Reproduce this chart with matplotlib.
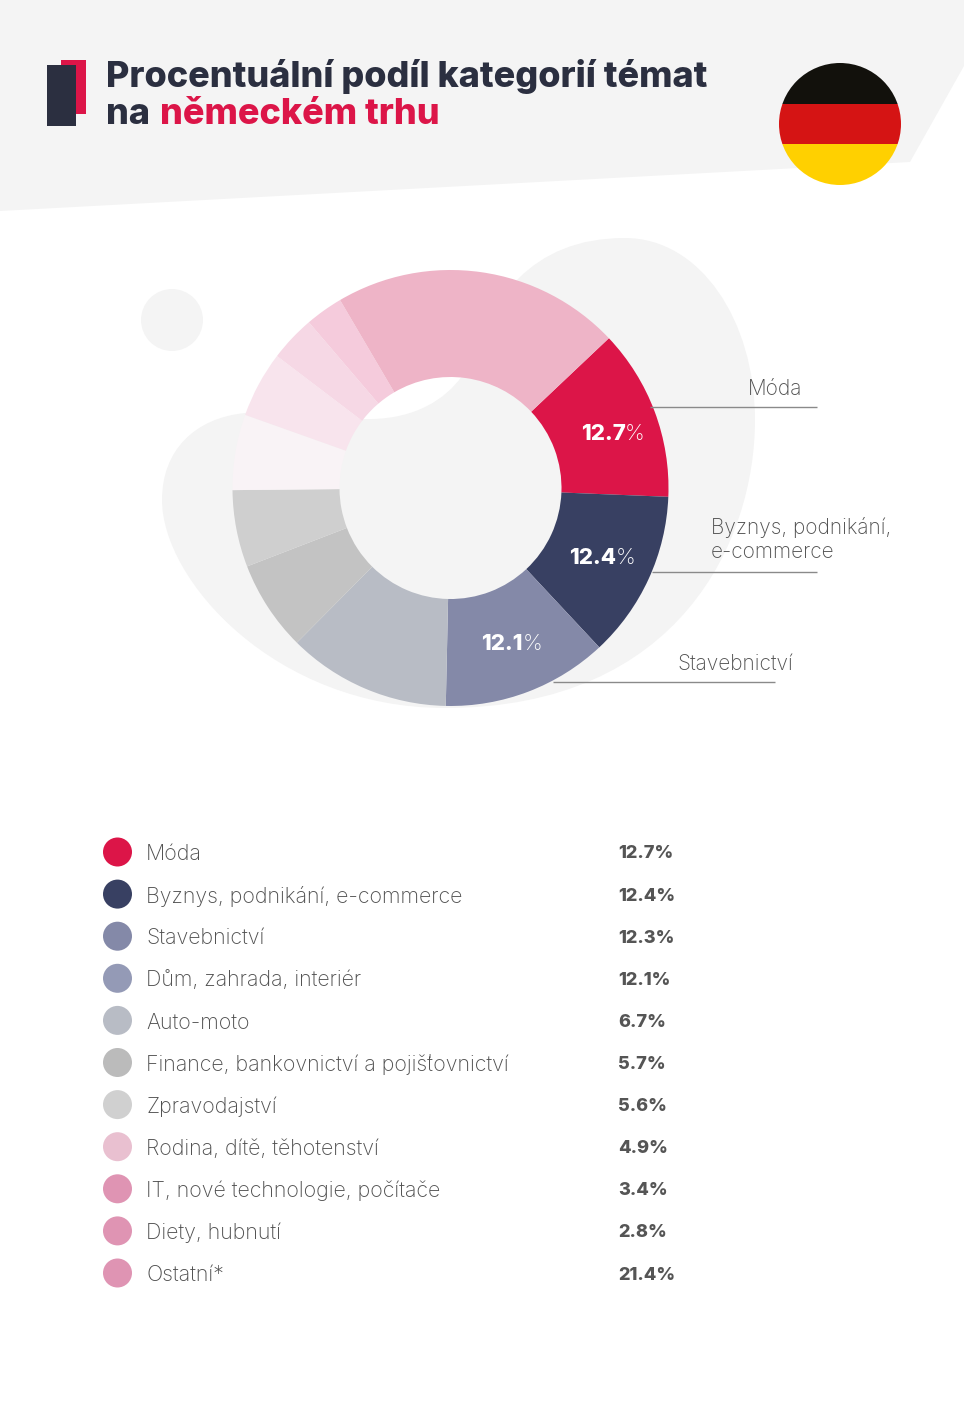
import matplotlib
matplotlib.use("Agg")
import matplotlib.pyplot as plt
from matplotlib.patches import Polygon, Circle, Rectangle, PathPatch
from matplotlib.path import Path

W, H = 964, 1415

# data
categories = ["Móda", "Byznys, podnikání, e-commerce", "Stavebnictví", "Dům, zahrada, interiér",
              "Auto-moto", "Finance, bankovnictví a pojišťovnictví", "Zpravodajství",
              "Rodina, dítě, těhotenství", "IT, nové technologie, počítače", "Diety, hubnutí", "Ostatní*"]
values = [12.7, 12.4, 12.3, 12.1, 6.7, 5.7, 5.6, 4.9, 3.4, 2.8, 21.4]
value_labels = ["12.7%", "12.4%", "12.3%", "12.1%", "6.7%", "5.7%", "5.6%", "4.9%", "3.4%", "2.8%", "21.4%"]
pie_colors = ["#dc1548", "#384062", "#8489a8", "#b8bcc5", "#c3c3c3", "#cfcfcf",
              "#f9f3f6", "#f8e4ed", "#f6d8e5", "#f5cbdc", "#eeb4c7"]
legend_colors = ["#dc1548", "#384062", "#8489a8", "#949ab6", "#b8bcc5", "#bbbbbb",
                 "#d0d0d0", "#e9c0d0", "#df94b3", "#df94b3", "#df94b3"]

DARK = "#2b2f40"
RED = "#dc1548"
BG = "#f4f4f4"
TXT = "#4f4f4f"
FONT = "Inter"

def Y(y):  # pixel y from top -> axes y
    return H - y

fig = plt.figure(figsize=(W / 100, H / 100), dpi=100, facecolor="white")
ax = fig.add_axes([0, 0, 1, 1])

# header band
ax.add_patch(Polygon([(0, Y(0)), (964, Y(0)), (964, Y(66)), (910, Y(162)), (0, Y(211))], fc=BG, ec="none", zorder=0))

# background blobs
verts = [(625, 238), (700, 238), (755, 320), (755, 420),
         (755, 540), (680, 708), (445, 708),
         (275, 708), (162, 580), (162, 500),
         (162, 450), (195, 418), (245, 413),
         (290, 409), (330, 420), (372, 419),
         (415, 418), (445, 400), (462, 376),
         (490, 300), (530, 238), (625, 238)]
codes = [Path.MOVETO] + [Path.CURVE4] * 21
ax.add_patch(PathPatch(Path([(x, Y(y)) for x, y in verts], codes), fc=BG, ec="none", zorder=1))
ax.add_patch(Circle((172, Y(320)), 31, fc=BG, ec="none", zorder=1))

# donut
wedges, _ = ax.pie(values, colors=pie_colors, startangle=43.4, counterclock=False,
                   center=(450.5, Y(488)), radius=218, frame=True,
                   wedgeprops=dict(width=107, linewidth=0))
for w in wedges:
    w.set_zorder(2)

# logo
ax.add_patch(Rectangle((61, Y(114)), 25, 54, fc=RED, ec="none", zorder=3))
ax.add_patch(Rectangle((47, Y(126)), 29, 61, fc=DARK, ec="none", zorder=4))

# title
ax.text(106, Y(77), "Procentuální podíl kategorií témat", fontsize=25.95, fontweight=800, family=FONT, color=DARK, va="center", zorder=5)
ax.text(106, Y(114), "na", fontsize=25.95, fontweight=800, family=FONT, color=DARK, va="center", zorder=5)
ax.text(160, Y(114), "německém trhu", fontsize=25.95, fontweight=800, family=FONT, color=RED, va="center", zorder=5)

# flag
flag = Circle((840, Y(124)), 61, transform=ax.transData, fc="none", ec="none")
ax.add_patch(flag)
for top, bot, col in [(60, 104, "#12110c"), (104, 144, "#d51414"), (144, 188, "#ffd000")]:
    r = Rectangle((775, Y(bot)), 130, bot - top, fc=col, ec="none", zorder=5)
    ax.add_patch(r)
    r.set_clip_path(flag)

# leader lines
for x0, x1, y in [(650, 817, 407), (652, 817, 572), (553, 775, 682)]:
    ax.plot([x0, x1], [Y(y), Y(y)], color="#8a8a8a", lw=1, zorder=3, solid_capstyle="butt")

# callout labels
for x, y, s in [(748, 389, "Móda"), (711, 528, "Byznys, podnikání,"), (711, 552, "e-commerce"), (677, 664, "Stavebnictví")]:
    ax.text(x, Y(y), s, fontsize=15, fontweight="light", family=FONT, color=TXT, va="center", zorder=5)

# percentages inside the ring
for x, y, s in [(625.5, 434, "12.7"), (616.5, 558, "12.4"), (523, 644, "12.1")]:
    ax.text(x, Y(y), s, fontsize=16, fontweight=800, family=FONT, color="white", ha="right", va="center", zorder=5)
    ax.text(x - 0.5, Y(y), "%", fontsize=16, fontweight="light", family=FONT, color="white", ha="left", va="center", zorder=5)

# legend table
for i, (cat, lab, col) in enumerate(zip(categories, value_labels, legend_colors)):
    y = 852 + 42.1 * i
    ax.add_patch(Circle((117.5, Y(y)), 14.5, fc=col, ec="none", zorder=3))
    ax.text(146, Y(y + 2), cat, fontsize=15.4, fontweight="light", family=FONT, color=TXT, va="center", zorder=5)
    ax.text(618, Y(y + 2), lab, fontsize=13.1, fontweight=800, family=FONT, color="#555555", va="center", zorder=5)

ax.set_xlim(0, W)
ax.set_ylim(0, H)
ax.set_aspect("auto")
ax.axis("off")
fig.savefig("out.png", dpi=100, facecolor="white")
